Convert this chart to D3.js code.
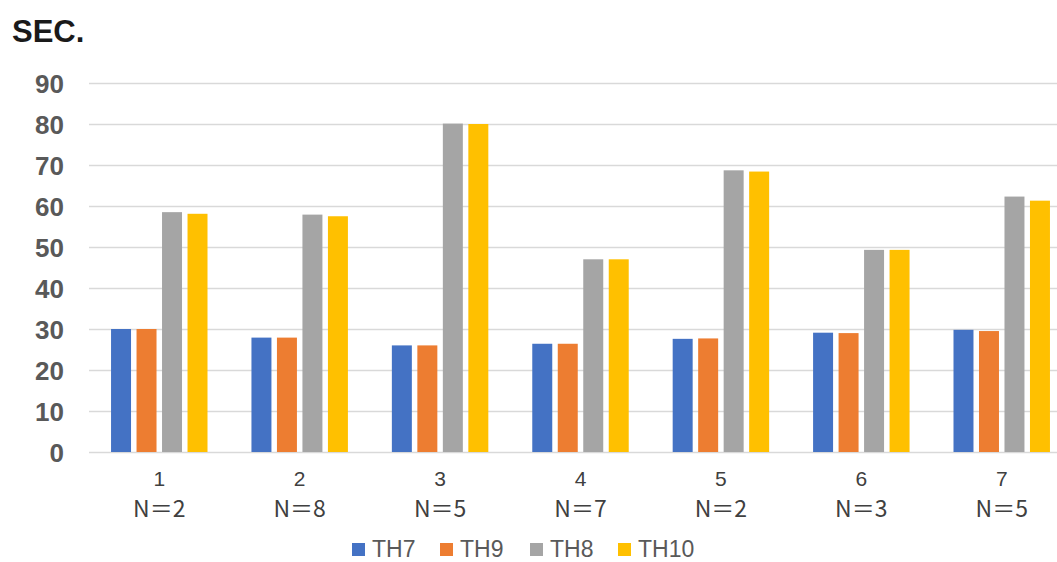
<!DOCTYPE html>
<html>
<head>
<meta charset="utf-8">
<script src="https://cdn.jsdelivr.net/npm/d3@7"></script>
<style>
  html, body { margin: 0; padding: 0; background: #fff; }
  svg { display: block; }
</style>
</head>
<body>
<svg id="chart" width="1057" height="562"></svg>
<script>
// Groups along the x axis and their sample sizes
const groups = ["1", "2", "3", "4", "5", "6", "7"];
const sampleSizes = ["N＝2", "N＝8", "N＝5", "N＝7", "N＝2", "N＝3", "N＝5"];

// Series (seconds)
const seriesNames = ["TH7", "TH9", "TH8", "TH10"];
const th7  = [30.0, 27.9, 26.0, 26.4, 27.6, 29.1, 29.8];
const th9  = [30.0, 27.9, 26.0, 26.4, 27.7, 29.0, 29.5];
const th8  = [58.5, 57.9, 80.1, 47.0, 68.7, 49.3, 62.3];
const th10 = [58.1, 57.5, 80.0, 47.0, 68.4, 49.3, 61.3];
const seriesValues = [th7, th9, th8, th10];

const yTicks = [0, 10, 20, 30, 40, 50, 60, 70, 80, 90];
const seriesColors = ["#4472C4", "#ED7D31", "#A5A5A5", "#FFC000"];

const svg = d3.select("#chart");

const plot = { left: 89, right: 1072, top: 83, bottom: 452 };

const y = d3.scaleLinear().domain([0, 90]).range([plot.bottom, plot.top]);

const x0 = d3.scaleBand()
  .domain(groups)
  .range([plot.left, plot.right])
  .paddingInner(0.313)
  .paddingOuter(0.157);

const x1 = d3.scaleBand()
  .domain(seriesNames)
  .range([0, x0.bandwidth()])
  .paddingInner(0.216);

const color = d3.scaleOrdinal().domain(seriesNames).range(seriesColors);

// Horizontal gridlines and y labels
const yAxis = d3.axisLeft(y)
  .tickValues(yTicks)
  .tickSize(-(plot.right - plot.left))
  .tickPadding(25);

const yg = svg.append("g")
  .attr("transform", `translate(${plot.left},0)`)
  .call(yAxis);
yg.select(".domain").remove();
yg.selectAll(".tick line")
  .attr("stroke", "#d9d9d9")
  .attr("stroke-width", 1.5);
yg.selectAll(".tick text")
  .attr("fill", "#595959")
  .attr("font-family", "'Liberation Sans', Arial, sans-serif")
  .attr("font-weight", "bold")
  .attr("font-size", 26)
  .attr("dy", "0.35em");

// Bars
const rows = groups.map((g, i) => ({
  group: g,
  values: seriesNames.map((s, j) => ({ series: s, value: seriesValues[j][i] }))
}));

svg.append("g")
  .selectAll("g")
  .data(rows)
  .join("g")
  .attr("transform", d => `translate(${x0(d.group)},0)`)
  .selectAll("rect")
  .data(d => d.values)
  .join("rect")
  .attr("x", d => x1(d.series))
  .attr("y", d => y(d.value))
  .attr("width", x1.bandwidth())
  .attr("height", d => y(0) - y(d.value))
  .attr("fill", d => color(d.series));

// Category labels: group number and sample size
const xg = svg.append("g")
  .attr("fill", "#404040")
  .attr("text-anchor", "middle");

xg.selectAll("text.num")
  .data(groups)
  .join("text")
  .attr("class", "num")
  .attr("x", d => x0(d) + x0.bandwidth() / 2)
  .attr("y", 479)
  .attr("dy", "0.35em")
  .attr("font-family", "'Liberation Sans', Arial, sans-serif")
  .attr("font-size", 21)
  .text(d => d);

xg.selectAll("text.n")
  .data(groups)
  .join("text")
  .attr("class", "n")
  .attr("x", d => x0(d) + x0.bandwidth() / 2)
  .attr("y", 509)
  .attr("dy", "0.35em")
  .attr("font-family", "'Noto Sans CJK JP', 'Noto Sans', sans-serif")
  .attr("font-size", 23)
  .text((d, i) => sampleSizes[i]);

// Axis title
svg.append("text")
  .attr("x", 12)
  .attr("y", 42)
  .attr("font-family", "'Liberation Sans', Arial, sans-serif")
  .attr("font-weight", "bold")
  .attr("font-size", 31)
  .attr("fill", "#1a1a1a")
  .text("SEC.");

// Legend
const legendX = [352, 440, 530, 618];
const legend = svg.append("g")
  .selectAll("g")
  .data(seriesNames)
  .join("g")
  .attr("transform", (d, i) => `translate(${legendX[i]},549)`);

legend.append("rect")
  .attr("x", 0)
  .attr("y", -6)
  .attr("width", 13)
  .attr("height", 13)
  .attr("fill", d => color(d));

legend.append("text")
  .attr("x", 20)
  .attr("y", 0)
  .attr("dy", "0.35em")
  .attr("font-family", "'Liberation Sans', Arial, sans-serif")
  .attr("font-size", 23)
  .attr("fill", "#595959")
  .text(d => d);
</script>
</body>
</html>
